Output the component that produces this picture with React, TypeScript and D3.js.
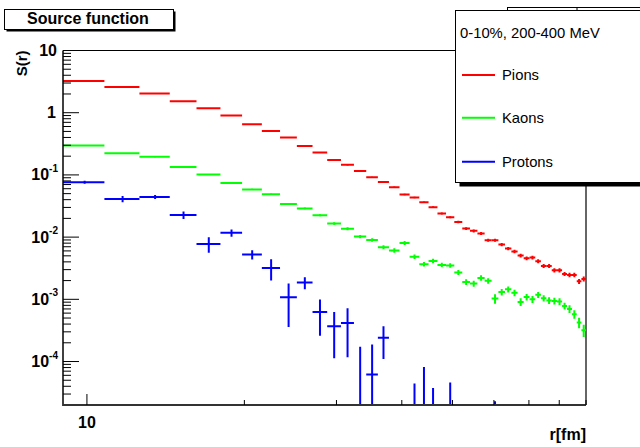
import React from "react";
import * as d3 from "d3";

// Histogram binning: r from 9 to 90 fm in 45 equal bins
const R_MIN = 9;
const R_MAX = 90;
const N_BINS = 45;

const pions = [
  3.24, 2.6, 2.04, 1.53, 1.18, 0.9, 0.653, 0.51, 0.399, 0.292,
  0.229, 0.174, 0.145, 0.116, 0.0918, 0.0771, 0.0634, 0.0484, 0.0433, 0.0364,
  0.0303, 0.024, 0.0209, 0.01755, 0.01375, 0.0126, 0.01143, 0.00892, 0.00892, 0.0076,
  0.00656, 0.00587, 0.00506, 0.00458, 0.0047, 0.0041, 0.00344, 0.00344, 0.00294, 0.00294,
  0.00256, 0.00247, 0.00247, 0.00195, 0.00213,
];
const pionErr = [
  0.03, 0.025, 0.02, 0.016, 0.012, 0.01, 0.008, 0.006, 0.005, 0.004,
  0.0035, 0.003, 0.0027, 0.0023, 0.002, 0.0018, 0.0016, 0.0013, 0.0012, 0.0011,
  0.001, 0.0009, 0.0008, 0.0008, 0.0007, 0.0007, 0.0006, 0.0005, 0.0005, 0.00045,
  0.0004, 0.00038, 0.00035, 0.00032, 0.00032, 0.0003, 0.00026, 0.00026, 0.00023, 0.00023,
  0.0002, 0.0002, 0.0002, 0.00018, 0.00019,
];
const kaons = [
  0.297, 0.222, 0.195, 0.1345, 0.1015, 0.0743, 0.0585, 0.0489, 0.0342, 0.0289,
  0.0225, 0.01655, 0.01365, 0.01023, 0.00902, 0.00688, 0.00611, 0.00807, 0.00484, 0.00367,
  0.00414, 0.00357, 0.00351, 0.0027, 0.0019, 0.00179, 0.00221, 0.00198, 0.00103, 0.00131,
  0.00145, 0.00127, 0.000908, 0.00109, 0.001, 0.00118, 0.00104, 0.000957, 0.000942, 0.000922,
  0.000783, 0.000701, 0.000576, 0.000424, 0.000319,
];
const kaonErr = [
  0.003, 0.003, 0.0025, 0.002, 0.0018, 0.0015, 0.0013, 0.0012, 0.001, 0.0009,
  0.0008, 0.0008, 0.0007, 0.0006, 0.0006, 0.0005, 0.0005, 0.0006, 0.0004, 0.0003,
  0.00033, 0.0003, 0.0003, 0.00025, 0.0002, 0.0002, 0.00022, 0.0002, 0.00018, 0.00016,
  0.00016, 0.00015, 0.00013, 0.00013, 0.00013, 0.00013, 0.00012, 0.00012, 0.00012, 0.00012,
  0.0001, 0.0001, 0.00009, 0.00008, 0.00007,
];
const protons = [
  0.0763, 0.0411, 0.0443, 0.0227, 0.00778, 0.0117, 0.00525, 0.0032, 0.00108, 0.00186,
  0.000627, 0.000369, 0.000417, 0, 0.0000618, 0.00024, 0, 0, 0, 0,
  0, 0, 0, 0, 0, 0, 0, 0, 0, 0,
  0, 0, 0, 0, 0, 0, 0, 0, 0, 0,
  0, 0, 0, 0, 0,
];
const protonErr = [
  0.004, 0.0046, 0.0033, 0.0031, 0.0022, 0.0016, 0.0009, 0.0012, 0.00072, 0.00041,
  0.000367, 0.000256, 0.0003, 0.000172, 0.000126, 0.00013, 0, 0, 0.0000443, 0.000082,
  0.0000376, 0, 0.000046, 0, 0, 0, 0, 0, 0.000023, 0,
  0, 0, 0, 0, 0, 0, 0, 0, 0, 0,
  0, 0, 0, 0, 0,
];

const yDecades = [-4, -3, -2, -1, 0, 1];
const xLabelTicks = [10];
const xSubTicks = [20, 30, 40, 50, 60, 70, 80, 90];

const titleText = "Source function";
const legendHeader = "0-10%, 200-400 MeV";
const seriesNames = ["Pions", "Kaons", "Protons"];
const seriesColors = ["#ff0000", "#00ff00", "#0000ff"];

const W = 640;
const H = 447;
const frame = { left: 63, right: 586, top: 50.5, bottom: 405 };
const Y_MIN = 2e-5;
const Y_MAX = 10;
const FONT = "'Liberation Sans', Arial, Helvetica, sans-serif";

const x = d3.scaleLog().domain([R_MIN, R_MAX]).range([frame.left, frame.right]);
const y = d3.scaleLog().domain([Y_MIN, Y_MAX]).range([frame.bottom, frame.top]);
const binWidth = (R_MAX - R_MIN) / N_BINS;

function yPos(v: number) {
  return v > Y_MIN ? y(v) : frame.bottom;
}

function Series({ values, errs, color }: { values: number[]; errs: number[]; color: string }) {
  return (
    <g stroke={color} strokeWidth={2} fill="none">
      {values.map((v, i) => {
        const e = errs[i];
        if (v <= 0 && e <= 0) return null;
        const lo = R_MIN + i * binWidth;
        const hi = lo + binWidth;
        const c = (lo + hi) / 2;
        const yv = yPos(v);
        const yt = yPos(v + e);
        const yb = yPos(v - e);
        return (
          <g key={i}>
            <line x1={x(lo)} x2={x(hi)} y1={yv} y2={yv} />
            {yb - yt > 0.5 && <line x1={x(c)} x2={x(c)} y1={yt} y2={yb} />}
          </g>
        );
      })}
    </g>
  );
}

export default function App() {
  // minor ticks 2..9 within each decade shown on the axis
  const minorY: number[] = [];
  yDecades.forEach((d) => {
    for (let m = 2; m <= 9; m++) {
      const v = m * Math.pow(10, d - 1);
      if (v >= Y_MIN) minorY.push(v);
    }
  });
  const legendRows = [75, 117.7, 161.7];

  return (
    <svg
      width={W}
      height={H}
      style={{ position: "absolute", left: 0, top: 0, display: "block", background: "#fff" }}
      fontFamily={FONT}
    >
      <defs>
        <clipPath id="frameClip">
          <rect x={frame.left} y={frame.top} width={frame.right - frame.left} height={frame.bottom - frame.top + 1.5} />
        </clipPath>
      </defs>
      <rect x={0} y={0} width={W} height={H} fill="#fff" />

      {/* frame */}
      <line x1={frame.left} x2={frame.right} y1={frame.top} y2={frame.top} stroke="#000" strokeWidth={1} />
      <line x1={frame.right} x2={frame.right} y1={frame.top} y2={frame.bottom} stroke="#666" strokeWidth={2} />

      {/* data */}
      <g clipPath="url(#frameClip)">
        <Series values={pions} errs={pionErr} color={seriesColors[0]} />
        <Series values={kaons} errs={kaonErr} color={seriesColors[1]} />
        <Series values={protons} errs={protonErr} color={seriesColors[2]} />
      </g>

      {/* y axis */}
      <line x1={frame.left} x2={frame.left} y1={frame.top} y2={frame.bottom + 1} stroke="#000" strokeWidth={1.5} />
      {yDecades.map((d) => (
        <line key={"M" + d} x1={frame.left} x2={frame.left + 16} y1={y(Math.pow(10, d))} y2={y(Math.pow(10, d))} stroke="#000" strokeWidth={1} />
      ))}
      {minorY.map((v, i) => (
        <line key={"m" + i} x1={frame.left} x2={frame.left + 8} y1={y(v)} y2={y(v)} stroke="#000" strokeWidth={1} />
      ))}
      {yDecades.map((d) => {
        const ty = y(Math.pow(10, d));
        if (d === 0)
          return (
            <text key={"l" + d} x={56} y={ty + 5.5} textAnchor="end" fontSize={16} fontWeight="bold">
              1
            </text>
          );
        if (d === 1)
          return (
            <text key={"l" + d} x={57} y={ty + 5.5} textAnchor="end" fontSize={16} fontWeight="bold">
              10
            </text>
          );
        return (
          <text key={"l" + d} x={58} y={ty + 5.5} textAnchor="end" fontSize={16} fontWeight="bold">
            10
            <tspan fontSize={10} dy={-8.5}>
              {String(d)}
            </tspan>
          </text>
        );
      })}
      <text
        transform={`translate(27,${frame.top}) rotate(-90)`}
        textAnchor="end"
        fontSize={15}
        fontWeight="bold"
      >
        S(r)
      </text>

      {/* x axis */}
      <line x1={frame.left} x2={frame.right} y1={frame.bottom} y2={frame.bottom} stroke="#333" strokeWidth={2} />
      {xLabelTicks.map((t) => (
        <g key={"xl" + t}>
          <line x1={x(t)} x2={x(t)} y1={frame.bottom} y2={frame.bottom - 11} stroke="#000" strokeWidth={1} />
          <text x={x(t)} y={428} textAnchor="middle" fontSize={16} fontWeight="bold">
            {t}
          </text>
        </g>
      ))}
      {xSubTicks.map((t) => (
        <line key={"xs" + t} x1={x(t)} x2={x(t)} y1={frame.bottom} y2={frame.bottom - 5} stroke="#000" strokeWidth={1} />
      ))}
      <text x={frame.right} y={440} textAnchor="end" fontSize={16} fontWeight="bold">
        r[fm]
      </text>

      {/* title pave */}
      <rect x={6.5} y={11.5} width={169} height={20} fill="#000" />
      <rect x={4.5} y={9.5} width={169} height={20} fill="#fff" stroke="#000" strokeWidth={1} />
      <text x={88} y={24} textAnchor="middle" fontSize={16} fontWeight="bold">
        {titleText}
      </text>

      {/* pave behind the legend */}
      <rect x={507.5} y={7.5} width={200} height={60} fill="#fff" stroke="#000" strokeWidth={1} />
      <line x1={577} x2={577} y1={8} y2={11} stroke="#000" strokeWidth={1} />

      {/* legend */}
      <rect x={459.5} y={14.5} width={260} height={172} fill="#000" />
      <rect x={455.5} y={10.5} width={260} height={172} fill="#fff" stroke="#000" strokeWidth={1} />
      <text x={460} y={38} fontSize={14.8} fill="#000">
        {legendHeader}
      </text>
      {seriesNames.map((n, i) => (
        <g key={n}>
          <line x1={462} x2={495} y1={legendRows[i]} y2={legendRows[i]} stroke={seriesColors[i]} strokeWidth={2} />
          <text x={502} y={legendRows[i] + 5} fontSize={14.8} fill="#000">
            {n}
          </text>
        </g>
      ))}
    </svg>
  );
}
